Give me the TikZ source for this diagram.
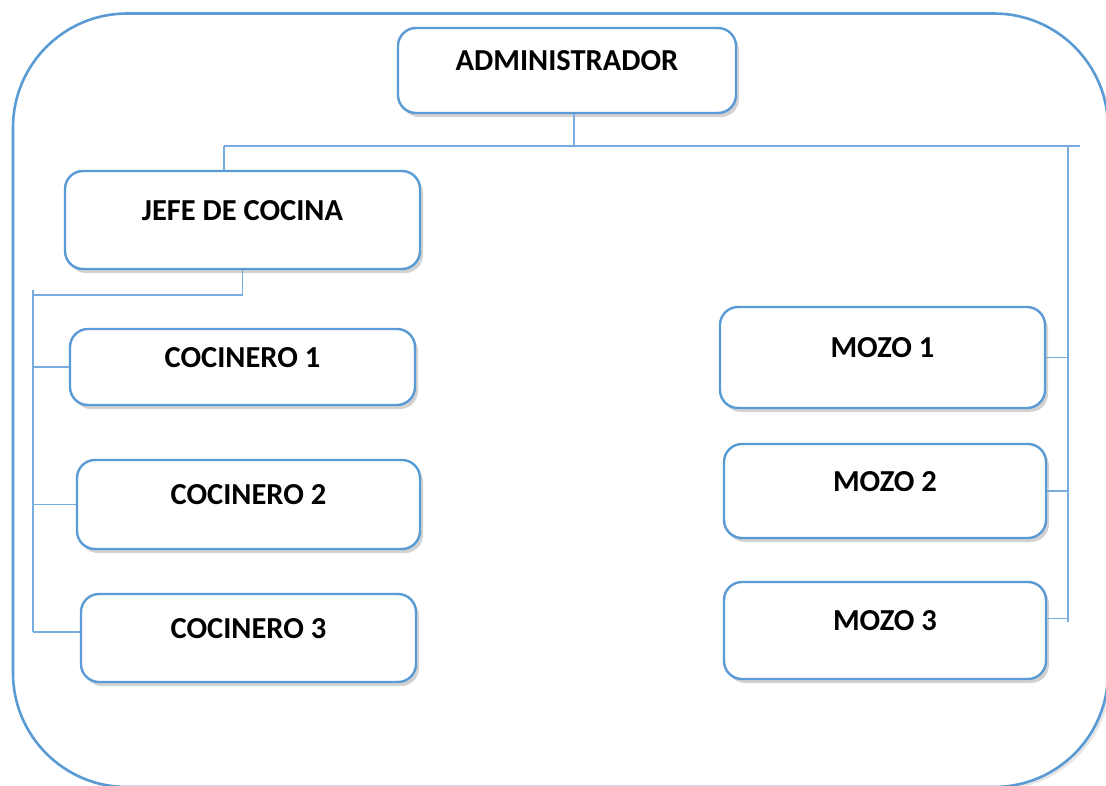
\documentclass[tikz,border=0pt]{standalone}
\usepackage{fontspec}
\setmainfont{Carlito}
\usetikzlibrary{shadows}
\definecolor{azul}{RGB}{91,155,213}
\definecolor{linea}{RGB}{120,172,222}

\begin{document}
\begin{tikzpicture}[x=1pt,y=-1pt,
    puesto/.style={draw=azul,line width=2.4pt,fill=white,rounded corners=18pt,
        font=\fontsize{30.5}{36}\selectfont\bfseries,text height=21pt,text depth=21pt,
        drop shadow={shadow xshift=3pt,shadow yshift=-4pt,opacity=0.35}},
    conector/.style={draw=linea,line width=1.4pt}]
    \useasboundingbox (0,0) rectangle (1106,785);
    \draw[azul,fill=white,line width=2.6pt,rounded corners=114pt,
        drop shadow={shadow xshift=3pt,shadow yshift=-3pt,opacity=0.2}] (13,13.5) rectangle (1108,787);

	\node[puesto,minimum width=338pt,minimum height=85pt] (admin) at (567,70.5) {ADMINISTRADOR};
	\node[puesto,minimum width=355pt,minimum height=98pt] (jefe) at (242.5,220) {JEFE DE COCINA};

	\node[puesto,minimum width=345pt,minimum height=76pt] (coc1) at (242.5,367) {COCINERO 1};
	\node[puesto,minimum width=343pt,minimum height=89pt] (coc2) at (248.5,504.5) {COCINERO 2};
	\node[puesto,minimum width=335pt,minimum height=88pt] (coc3) at (248.5,638) {COCINERO 3};

	\node[puesto,minimum width=325pt,minimum height=101pt] (mozo1) at (882.5,357.5) {MOZO 1};
	\node[puesto,minimum width=322pt,minimum height=94pt] (mozo2) at (885,491) {MOZO 2};
	\node[puesto,minimum width=322pt,minimum height=97pt] (mozo3) at (885,630.5) {MOZO 3};

	\coordinate (busI) at (224,146);
	\coordinate (busD) at (1080,146);
	\coordinate (ejeM) at (1068,146);
	\coordinate (ejeMfin) at (1068,622);
	\coordinate (busC) at (33,295);
	\coordinate (ejeCfin) at (33,632);

%	administrador y jefe
  \draw[conector] ([xshift=7pt]admin.south) -- ([xshift=7pt]admin.south |- busI);
  \draw[conector] (busI) -- (busD);
  \draw[conector] (busI) -- (busI |- jefe.north);
  \draw[conector] (ejeM) -- (ejeMfin);

%	cocina
  \draw[conector] (jefe.south) -- (jefe.south |- busC) -- (busC);
  \draw[conector] ([yshift=5pt]busC) -- (ejeCfin);
  \draw[conector] (coc1.west) -- (coc1.west -| busC);
  \draw[conector] (coc2.west) -- (coc2.west -| busC);
  \draw[conector] ([yshift=6pt]coc3.west) -- ([yshift=6pt]coc3.west -| busC);

%	mozos
  \draw[conector] (mozo1.east) -- (mozo1.east -| ejeM);
  \draw[conector] (mozo2.east) -- (mozo2.east -| ejeM);
  \draw[conector] ([yshift=12pt]mozo3.east) -- ([yshift=12pt]mozo3.east -| ejeM);
\end{tikzpicture}
\end{document}
